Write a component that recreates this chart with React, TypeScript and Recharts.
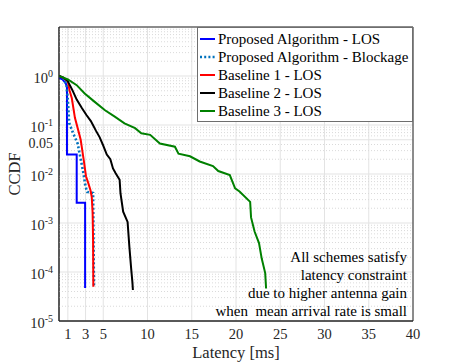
import React from 'react';
import {
  LineChart,
  Line,
  XAxis,
  YAxis,
  CartesianGrid,
  ReferenceLine,
  ReferenceArea,
  Label,
} from 'recharts';

// ---------- data ----------
const seriesNames = [
  'Proposed Algorithm - LOS',
  'Proposed Algorithm - Blockage',
  'Baseline 1 - LOS',
  'Baseline 2 - LOS',
  'Baseline 3 - LOS',
];

const propLosX = [0, 0.4, 0.75, 0.9, 0.9, 2.0, 2.0, 2.95, 2.95];
const propLosP = [0.92, 0.85, 0.72, 0.6, 0.025, 0.025, 0.0026, 0.0026, 4.7e-5];

const propBlkX = [0, 0.5, 0.85, 1.0, 1.15, 1.6, 2.1, 2.35, 2.75, 3.0, 3.2, 3.85, 3.9, 3.95];
const propBlkP = [1.0, 0.9, 0.66, 0.32, 0.11, 0.068, 0.042, 0.025, 0.0106, 0.0055, 0.0043, 0.0041, 5e-4, 5e-5];

const base1X = [0, 0.5, 1.0, 1.2, 1.45, 1.8, 2.2, 2.45, 2.6, 2.8, 3.05, 3.3, 3.55, 3.7, 3.8, 3.85, 3.88];
const base1P = [1.0, 0.92, 0.78, 0.5, 0.35, 0.14, 0.075, 0.05, 0.033, 0.019, 0.009, 0.0066, 0.0047, 0.0034, 0.0016, 4.5e-4, 5e-5];

const base2X = [0, 0.5, 1.0, 1.5, 2.0, 2.6, 3.1, 3.6, 4.2, 4.6, 5.0, 5.4, 5.8, 6.1, 6.4, 6.85, 6.95, 7.25, 7.75, 7.95, 8.15, 8.3, 8.35];
const base2P = [1.0, 0.93, 0.78, 0.52, 0.33, 0.22, 0.16, 0.12, 0.075, 0.056, 0.038, 0.025, 0.02, 0.013, 0.0104, 0.0076, 0.004, 0.0017, 0.00105, 3.3e-4, 1.2e-4, 6e-5, 4.3e-5];

const base3X = [0, 1.0, 2.0, 2.9, 4.0, 5.2, 6.3, 7.4, 8.6, 9.3, 10.3, 11.4, 13.1, 13.5, 14.8, 15.9, 17.4, 18.0, 19.3, 19.9, 20.4, 21.6, 21.7, 22.1, 22.6, 22.9, 23.3, 23.4];
const base3P = [1.0, 0.85, 0.65, 0.44, 0.3, 0.2, 0.148, 0.108, 0.086, 0.068, 0.063, 0.042, 0.036, 0.026, 0.023, 0.018, 0.0145, 0.0115, 0.0095, 0.0051, 0.0044, 0.0027, 0.0013, 6.7e-4, 3.9e-4, 1.9e-4, 9.5e-5, 4.6e-5];

const xTicks = [1, 3, 5, 10, 15, 20, 25, 30, 35, 40];
const yTicks = [1e-5, 1e-4, 1e-3, 1e-2, 0.05, 0.1, 1, 10];
const minorMultipliers = [2, 3, 4, 5, 6, 7, 8, 9];
const minorDecades = [1e-5, 1e-4, 1e-3, 1e-2, 1e-1, 1];

const annotationLines = [
  'All schemes satisfy',
  'latency constraint',
  'due to higher antenna gain',
  'when  mean arrival rate is small',
];

// ---------- helpers ----------
const toPoints = (xs: number[], ps: number[]) => xs.map((x, i) => ({ x, y: ps[i] }));

const colors = ['#0000ff', '#0072bd', '#ff0000', '#000000', '#008000'];
const dashes = [undefined, '2 2.2', undefined, undefined, undefined];

const seriesData = [
  toPoints(propLosX, propLosP),
  toPoints(propBlkX, propBlkP),
  toPoints(base1X, base1P),
  toPoints(base2X, base2P),
  toPoints(base3X, base3P),
];

const minorValues: number[] = [];
minorDecades.forEach((d) => {
  minorMultipliers.forEach((m) => {
    const v = d * m;
    if (v < 10 && Math.abs(v - 0.05) > 1e-9) minorValues.push(v);
  });
});

const FONT = '"Liberation Serif", "Times New Roman", serif';
const AXIS = '#262626';

const YTick = (props: any) => {
  const { x, y, payload } = props;
  const v = payload.value;
  if (v >= 10) return null;
  if (Math.abs(v - 0.05) < 1e-9) {
    return (
      <text x={x} y={y + 8.5} textAnchor="end" fontSize={14} fontFamily={FONT} fill={AXIS}>
        0.05
      </text>
    );
  }
  const exp = Math.round(Math.log10(v));
  return (
    <text x={x} y={y + 7} textAnchor="end" fontSize={14.5} fontFamily={FONT} fill={AXIS}>
      <tspan>10</tspan>
      <tspan dy={-6} fontSize={10}>
        {String(exp)}
      </tspan>
    </text>
  );
};

export default function App() {
  return (
    <div style={{ position: 'absolute', left: 0, top: 0, width: 457, height: 364, background: '#fff' }}>
      <LineChart
        width={457}
        height={364}
        margin={{ top: 27, right: 44, bottom: 0, left: 0 }}
        style={{ fontFamily: FONT }}
      >
        <CartesianGrid stroke="#e3e3e3" strokeWidth={1} />
        {minorValues.map((v) => (
          <ReferenceLine
            key={'m' + v}
            y={v}
            stroke="#dadada"
            strokeWidth={1}
            strokeDasharray="1 2"
          />
        ))}
        <XAxis
          type="number"
          dataKey="x"
          domain={[0, 40]}
          ticks={xTicks}
          interval={0}
          allowDataOverflow
          height={43}
          tickSize={0}
          tickMargin={8}
          stroke={AXIS}
          tick={{ fontSize: 14.5, fontFamily: FONT, fill: AXIS }}
        >
          <Label
            value="Latency [ms]"
            position="insideBottom"
            offset={6}
            style={{ fontSize: 16.5, fontFamily: FONT, fill: AXIS }}
          />
        </XAxis>
        <YAxis
          type="number"
          dataKey="y"
          scale="log"
          domain={[1e-5, 10]}
          ticks={yTicks}
          interval={0}
          allowDataOverflow
          width={59}
          tickSize={0}
          tickMargin={6}
          stroke={AXIS}
          tick={<YTick />}
        >
          <Label
            value="CCDF"
            angle={-90}
            position="center"
            dx={-15}
            style={{ fontSize: 16.5, fontFamily: FONT, fill: AXIS, textAnchor: 'middle' }}
          />
        </YAxis>
        <ReferenceArea x1={0} x2={40} y1={1e-5} y2={10} fill="none" stroke={AXIS} strokeWidth={1} />
        {seriesData.map((d, i) => (
          <Line
            key={seriesNames[i]}
            data={d}
            dataKey="y"
            name={seriesNames[i]}
            type="linear"
            stroke={colors[i]}
            strokeWidth={i === 1 ? 2.6 : 2}
            strokeDasharray={dashes[i]}
            dot={false}
            activeDot={false}
            isAnimationActive={false}
          />
        ))}
      </LineChart>

      {/* legend */}
      <div
        style={{
          position: 'absolute',
          left: 197,
          top: 27,
          width: 214,
          height: 91,
          border: '1px solid #6e6e6e',
          background: '#fff',
          fontFamily: FONT,
          fontSize: 15,
          color: '#000',
          paddingTop: 2,
          boxSizing: 'content-box',
        }}
      >
        {seriesNames.map((n, i) => (
          <div key={n} style={{ height: 18.1, lineHeight: '18.1px', display: 'flex', alignItems: 'center', whiteSpace: 'nowrap' }}>
            <svg width={20} height={18} style={{ flex: 'none' }}>
              <line
                x1={2}
                x2={17}
                y1={9}
                y2={9}
                stroke={colors[i]}
                strokeWidth={i === 1 ? 2.6 : 2}
                strokeDasharray={dashes[i]}
              />
            </svg>
            <span>{n}</span>
          </div>
        ))}
      </div>

      {/* annotation */}
      <div
        style={{
          position: 'absolute',
          left: 0,
          width: 407,
          top: 248,
          textAlign: 'right',
          fontFamily: FONT,
          fontSize: 15,
          lineHeight: '18px',
          color: '#000',
          whiteSpace: 'pre',
        }}
      >
        {annotationLines.map((l) => (
          <div key={l}>{l}</div>
        ))}
      </div>
    </div>
  );
}
